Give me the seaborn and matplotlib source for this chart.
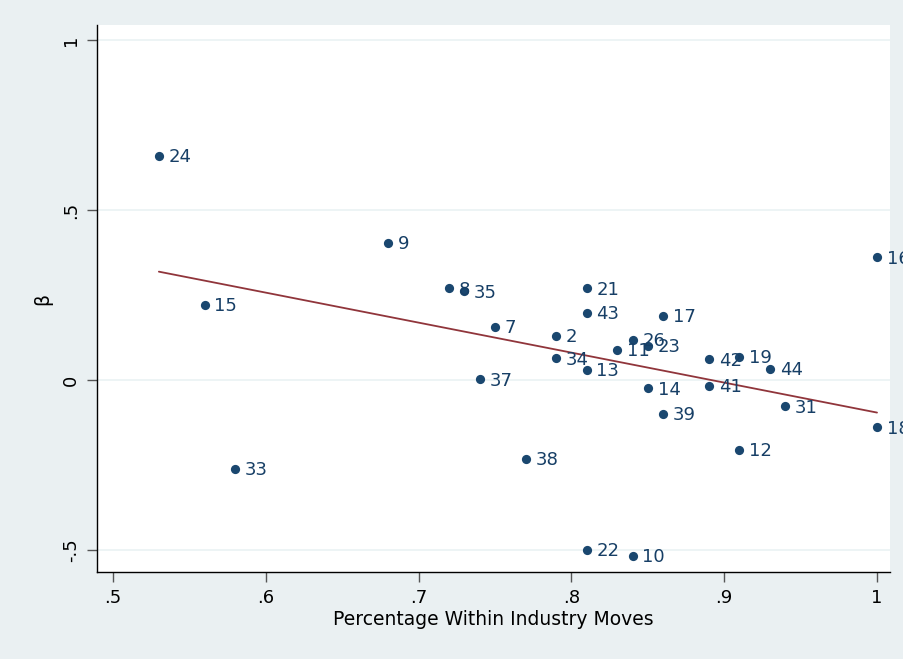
import matplotlib
matplotlib.use('Agg')
import matplotlib.pyplot as plt
import seaborn as sns
import pandas as pd

# industry id, share of within-industry moves, estimated beta
industry = [24, 15, 33, 9, 8, 35, 7, 37, 38, 2, 34, 21, 43, 13, 22,
            11, 26, 23, 10, 14, 17, 39, 42, 41, 19, 12, 44, 31, 16, 18]
within_share = [0.53, 0.56, 0.58, 0.68, 0.72, 0.73, 0.75, 0.74, 0.77, 0.79, 0.79,
                0.81, 0.81, 0.81, 0.81, 0.83, 0.84, 0.85, 0.84, 0.85, 0.86, 0.86,
                0.89, 0.89, 0.91, 0.91, 0.93, 0.94, 1.00, 1.00]
beta = [0.659, 0.221, -0.262, 0.403, 0.270, 0.261, 0.157, 0.002, -0.232, 0.129, 0.064,
        0.269, 0.197, 0.030, -0.500, 0.088, 0.118, 0.101, -0.517, -0.025, 0.189, -0.100,
        0.061, -0.018, 0.068, -0.206, 0.032, -0.078, 0.361, -0.139]

# fitted line as shown in the figure (intercept, slope)
fit_intercept = 0.786
fit_slope = -0.882

xticks = [0.5, 0.6, 0.7, 0.8, 0.9, 1.0]
xtick_labels = ['.5', '.6', '.7', '.8', '.9', '1']
yticks = [-0.5, 0, 0.5, 1]
ytick_labels = ['-.5', '0', '.5', '1']

df = pd.DataFrame({'id': industry, 'share': within_share, 'beta': beta})
fit_x = [min(within_share), max(within_share)]
fit_df = pd.DataFrame({'share': fit_x, 'fit': [fit_intercept + fit_slope * v for v in fit_x]})

navy = '#1A476F'
maroon = '#90353B'
bg = '#EAF0F2'

sns.set_style('white')
plt.rcParams['font.family'] = ['DejaVu Sans']

fig = plt.figure(figsize=(9.04, 6.59), dpi=100)
fig.patch.set_facecolor(bg)
ax = fig.add_axes([0.1073, 0.132, 0.8772, 0.830])
ax.set_facecolor('white')

sns.lineplot(data=fit_df, x='share', y='fit', ax=ax, color=maroon, linewidth=1.3, zorder=2)
sns.scatterplot(data=df, x='share', y='beta', ax=ax, s=44, color=navy,
                linewidth=0, zorder=3)

for _, r in df.iterrows():
    ax.annotate(str(int(r['id'])), (r['share'], r['beta']), xytext=(7, -1),
                textcoords='offset points', va='center', ha='left',
                fontsize=13, color='#173F66', zorder=4)

ax.set_xlim(0.4895, 1.0085)
ax.set_ylim(-0.565, 1.044)
ax.set_xticks(xticks)
ax.set_xticklabels(xtick_labels, fontsize=13, color='black')
ax.set_yticks(yticks)
ax.set_yticklabels(ytick_labels, fontsize=13, rotation=90, va='center', color='black')
ax.yaxis.grid(True, color='#EAF2F3', linewidth=1.2, zorder=0)
ax.xaxis.grid(False)
ax.set_axisbelow(True)

ax.tick_params(axis='both', direction='out', length=7.5, width=1, color='#555555',
               left=True, bottom=True, pad=5)
for side in ['top', 'right']:
    ax.spines[side].set_visible(False)
for side in ['left', 'bottom']:
    ax.spines[side].set_color('black')
    ax.spines[side].set_linewidth(1)

ax.set_xlabel('Percentage Within Industry Moves', fontsize=13.5, labelpad=2, color='black')
ax.set_ylabel('β', fontsize=13.5, labelpad=7, color='black')

fig.savefig('out.png', dpi=100, facecolor=bg)
